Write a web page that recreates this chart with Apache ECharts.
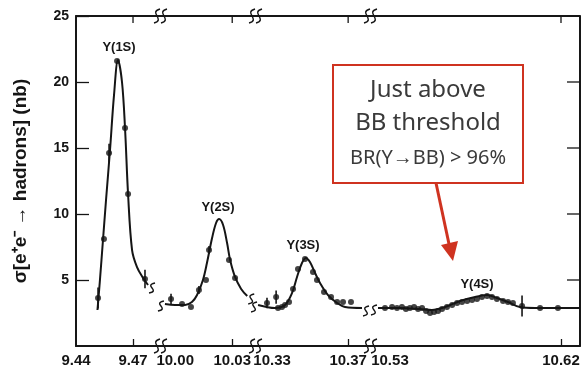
<!DOCTYPE html>
<html>
<head>
<meta charset="utf-8">
<script src="https://cdn.jsdelivr.net/npm/echarts@6/dist/echarts.min.js"></script>
<style>
  html, body { margin: 0; padding: 0; background: #fff; }
  #chart { width: 585px; height: 372px; }
</style>
</head>
<body>
<div id="chart"></div>
<script>
// mass ranges (GeV) cut out of the axis
const axisBreaks = [[9.4842, 9.992], [10.042, 10.321], [10.3815, 10.5195]];
const xTickValues = [9.47, 10.03, 10.37, 10.62];
const xLabelValues = [9.44, 9.47, 10.00, 10.03, 10.33, 10.37, 10.53, 10.62];
const yTickValues = [5, 10, 15, 20, 25];

// measured cross sections: [mass, sigma (nb), error]
const measured = [
  [9.4516, 3.64, 0.8], [9.4547, 8.11, 0], [9.4574, 14.62, 0.7], [9.4616, 21.59, 0],
  [9.4658, 16.52, 0], [9.4674, 11.52, 0], [9.4763, 5.08, 0.7],
  [9.9978, 3.56, 0.4], [10.0036, 3.18, 0], [10.0083, 2.95, 0], [10.0125, 4.24, 0.3],
  [10.0162, 5.00, 0], [10.0178, 7.27, 0.3], [10.0283, 6.52, 0], [10.0315, 5.15, 0],
  [10.3273, 3.26, 0.4], [10.3321, 3.71, 0.5], [10.3331, 2.88, 0], [10.3352, 2.95, 0],
  [10.3368, 3.11, 0], [10.3389, 3.33, 0], [10.3410, 4.32, 0], [10.3436, 5.83, 0],
  [10.3473, 6.59, 0], [10.3515, 5.61, 0], [10.3536, 5.00, 0], [10.3573, 4.09, 0],
  [10.3610, 3.71, 0], [10.3642, 3.33, 0], [10.3673, 3.33, 0], [10.3715, 3.33, 0],
  [10.5274, 2.88, 0], [10.5311, 2.95, 0], [10.5337, 2.88, 0], [10.5363, 2.95, 0],
  [10.5384, 2.80, 0], [10.5405, 2.88, 0], [10.5427, 2.95, 0], [10.5448, 2.80, 0],
  [10.5469, 2.88, 0], [10.5490, 2.65, 0], [10.5511, 2.50, 0], [10.5532, 2.58, 0],
  [10.5553, 2.65, 0], [10.5574, 2.80, 0], [10.5600, 2.95, 0], [10.5627, 3.11, 0],
  [10.5653, 3.26, 0], [10.5679, 3.33, 0], [10.5706, 3.41, 0], [10.5732, 3.48, 0],
  [10.5758, 3.56, 0], [10.5784, 3.71, 0], [10.5811, 3.79, 0], [10.5837, 3.71, 0],
  [10.5863, 3.56, 0], [10.5895, 3.41, 0], [10.5921, 3.33, 0], [10.5947, 3.26, 0],
  [10.5995, 3.03, 0.8], [10.6090, 2.88, 0], [10.6184, 2.88, 0]
];

// fitted curve, one piece per axis segment
const fit1S = [
  [9.4513, 2.73], [9.4526, 5.0], [9.4542, 8.03], [9.4558, 11.06], [9.4579, 14.85],
  [9.4600, 19.0], [9.4621, 21.67], [9.4642, 20.0], [9.4658, 16.5], [9.4674, 11.5],
  [9.4695, 7.27], [9.4721, 5.98], [9.4753, 5.15], [9.4779, 4.62]
];
const fit2S = [
  [9.9946, 3.18], [9.9999, 3.11], [10.0052, 3.11], [10.0088, 3.33], [10.0115, 3.86],
  [10.0146, 5.0], [10.0167, 6.29], [10.0194, 8.18], [10.0215, 9.32], [10.0231, 9.62],
  [10.0252, 9.17], [10.0273, 7.8], [10.0289, 6.52], [10.0315, 5.23], [10.0347, 4.32],
  [10.0379, 3.79]
];
const fit3S = [
  [10.3226, 3.11], [10.3315, 2.88], [10.3368, 3.11], [10.3405, 4.02], [10.3431, 5.23],
  [10.3457, 6.29], [10.3478, 6.67], [10.3499, 6.36], [10.3526, 5.53], [10.3552, 4.77],
  [10.3594, 3.86], [10.3642, 3.26], [10.3684, 2.95], [10.3773, 2.88]
];
const fit4S = [
  [10.5237, 2.88], [10.5353, 2.88], [10.5458, 2.80], [10.5521, 2.73], [10.5590, 2.95],
  [10.5669, 3.41], [10.5748, 3.71], [10.5811, 3.86], [10.5863, 3.64], [10.5921, 3.33],
  [10.5984, 2.95], [10.6063, 2.88], [10.6300, 2.88]
];
const fits = [fit1S, fit2S, fit3S, fit4S];

const peakNames = ['Υ(1S)', 'Υ(2S)', 'Υ(3S)', 'Υ(4S)'];
const noteLines = ['Just above', 'BB threshold', 'BR(Y→BB) > 96%'];

const ink = '#151515';
const red = '#cf3320';
const axisFont = { fontFamily: 'Liberation Sans', fontWeight: 'bold', color: ink };
const gridBox = { left: 76, right: 5, top: 16, bottom: 26 };

const chart = echarts.init(document.getElementById('chart'), null, { renderer: 'canvas' });

const option = {
  backgroundColor: '#fff',
  animation: false,
  grid: Object.assign({ show: true, borderColor: ink, borderWidth: 1.5, backgroundColor: 'rgba(0,0,0,0)' }, gridBox),
  xAxis: {
    type: 'value',
    min: 9.44,
    max: 10.63,
    breaks: axisBreaks.map(b => ({ start: b[0], end: b[1], gap: 0 })),
    breakArea: { show: false },
    axisLine: { show: true, onZero: false, lineStyle: { color: ink, width: 1.5 } },
    axisTick: { show: true, inside: true, length: 7, customValues: xTickValues, lineStyle: { color: ink, width: 1.3 } },
    axisLabel: Object.assign({
      customValues: xLabelValues,
      fontSize: 15,
      margin: 7,
      formatter: v => v.toFixed(2)
    }, axisFont),
    splitLine: { show: false }
  },
  yAxis: {
    type: 'value',
    min: 0,
    max: 25,
    interval: 5,
    axisLine: { show: true, onZero: false, lineStyle: { color: ink, width: 1.5 } },
    axisTick: { show: true, inside: true, length: 13, customValues: yTickValues, lineStyle: { color: ink, width: 1.3 } },
    axisLabel: Object.assign({ customValues: yTickValues, fontSize: 14, margin: 7 }, axisFont),
    splitLine: { show: false },
    name: 'σ[e⁺e⁻ → hadrons] (nb)',
    nameLocation: 'middle',
    nameGap: 46,
    nameTextStyle: { fontFamily: 'Liberation Sans', fontWeight: 'bold', fontSize: 19, color: ink }
  },
  series: [
    ...fits.map(f => ({
      type: 'line',
      data: f,
      showSymbol: false,
      smooth: 0.35,
      lineStyle: { color: ink, width: 2 },
      z: 2
    })),
    {
      type: 'custom',
      data: measured.filter(d => d[2] > 0),
      renderItem: (params, api) => {
        const x = api.value(0), y = api.value(1), e = api.value(2);
        const lo = api.coord([x, y - e]);
        const hi = api.coord([x, y + e]);
        return {
          type: 'line',
          shape: { x1: lo[0], y1: lo[1], x2: hi[0], y2: hi[1] },
          style: { stroke: ink, lineWidth: 1.6 }
        };
      },
      z: 3
    },
    {
      type: 'scatter',
      data: measured.map(d => [d[0], d[1]]),
      symbolSize: 6,
      itemStyle: { color: ink },
      z: 4
    }
  ]
};

chart.setOption(option);

// decorations: frame with mirrored ticks, break marks, peak names, note box and arrow
const W = 585, H = 372;
const fL = gridBox.left, fT = gridBox.top;
const fR = W - gridBox.right, fB = H - gridBox.bottom;

function sMark(x, y, h) {
  return {
    type: 'bezierCurve',
    shape: { x1: x + 3, y1: y - h, cpx1: x - 9, cpy1: y - h / 2, cpx2: x + 9, cpy2: y + h / 2, x2: x - 3, y2: y + h },
    style: { stroke: ink, lineWidth: 1.4, fill: null },
    z: 60
  };
}

function bar(x, y, w, h) {
  return { type: 'rect', shape: { x: x, y: y, width: w, height: h }, style: { fill: ink }, z: 55 };
}

const graphics = [
  { type: 'rect', shape: { x: fL, y: fT, width: fR - fL, height: fB - fT }, style: { fill: null, stroke: ink, lineWidth: 1.5 }, z: 55 },
  bar(fL, fT - 0.75, fR - fL, 1.5),
  bar(fR - 0.75, fT, 1.5, fB - fT)
];
xTickValues.forEach(v => {
  const px = chart.convertToPixel({ xAxisIndex: 0 }, v);
  graphics.push(bar(px - 0.65, fT, 1.3, 7));
});
yTickValues.forEach(v => {
  const py = chart.convertToPixel({ yAxisIndex: 0 }, v);
  graphics.push(bar(fR - 13, py - 0.65, 13, 1.3));
});

axisBreaks.forEach(b => {
  const px = chart.convertToPixel({ xAxisIndex: 0 }, b[0]);
  [fT, fB].forEach(y => {
    graphics.push(sMark(px - 3, y, 7));
    graphics.push(sMark(px + 4, y, 7));
  });
});

fits.forEach((f, i) => {
  if (i > 0) {
    const p = chart.convertToPixel({ xAxisIndex: 0, yAxisIndex: 0 }, f[0]);
    graphics.push(sMark(p[0] - 4, p[1] + 2, 5));
  }
  if (i < fits.length - 1) {
    const p = chart.convertToPixel({ xAxisIndex: 0, yAxisIndex: 0 }, f[f.length - 1]);
    graphics.push(sMark(p[0] + 4, p[1] + 3, 5));
  }
});

const peakPos = [[119, 47], [218, 207], [303, 245], [477, 284]];
peakNames.forEach((name, i) => {
  graphics.push({
    type: 'text',
    x: peakPos[i][0],
    y: peakPos[i][1],
    style: {
      text: name, fill: ink, font: 'bold 13px "Liberation Sans"',
      align: 'center', verticalAlign: 'middle'
    },
    z: 60
  });
});

graphics.push({
  type: 'rect',
  shape: { x: 333, y: 65, width: 190, height: 118 },
  style: { fill: '#fff', stroke: red, lineWidth: 2 },
  z: 70
});
const noteY = [90, 123, 158];
const noteSize = [24, 24, 20];
noteLines.forEach((t, i) => {
  graphics.push({
    type: 'text',
    x: 428,
    y: noteY[i],
    style: {
      text: t, fill: '#3a3a3a', font: noteSize[i] + 'px "Noto Sans"',
      align: 'center', verticalAlign: 'middle'
    },
    z: 71
  });
});
graphics.push({
  type: 'line',
  shape: { x1: 436, y1: 183, x2: 449, y2: 244 },
  style: { stroke: red, lineWidth: 3 },
  z: 70
});
graphics.push({
  type: 'polygon',
  shape: { points: [[441, 245], [458, 241], [453, 261]] },
  style: { fill: red },
  z: 70
});

chart.setOption({ graphic: { elements: graphics } });

window.addEventListener('resize', () => chart.resize());
</script>
</body>
</html>
